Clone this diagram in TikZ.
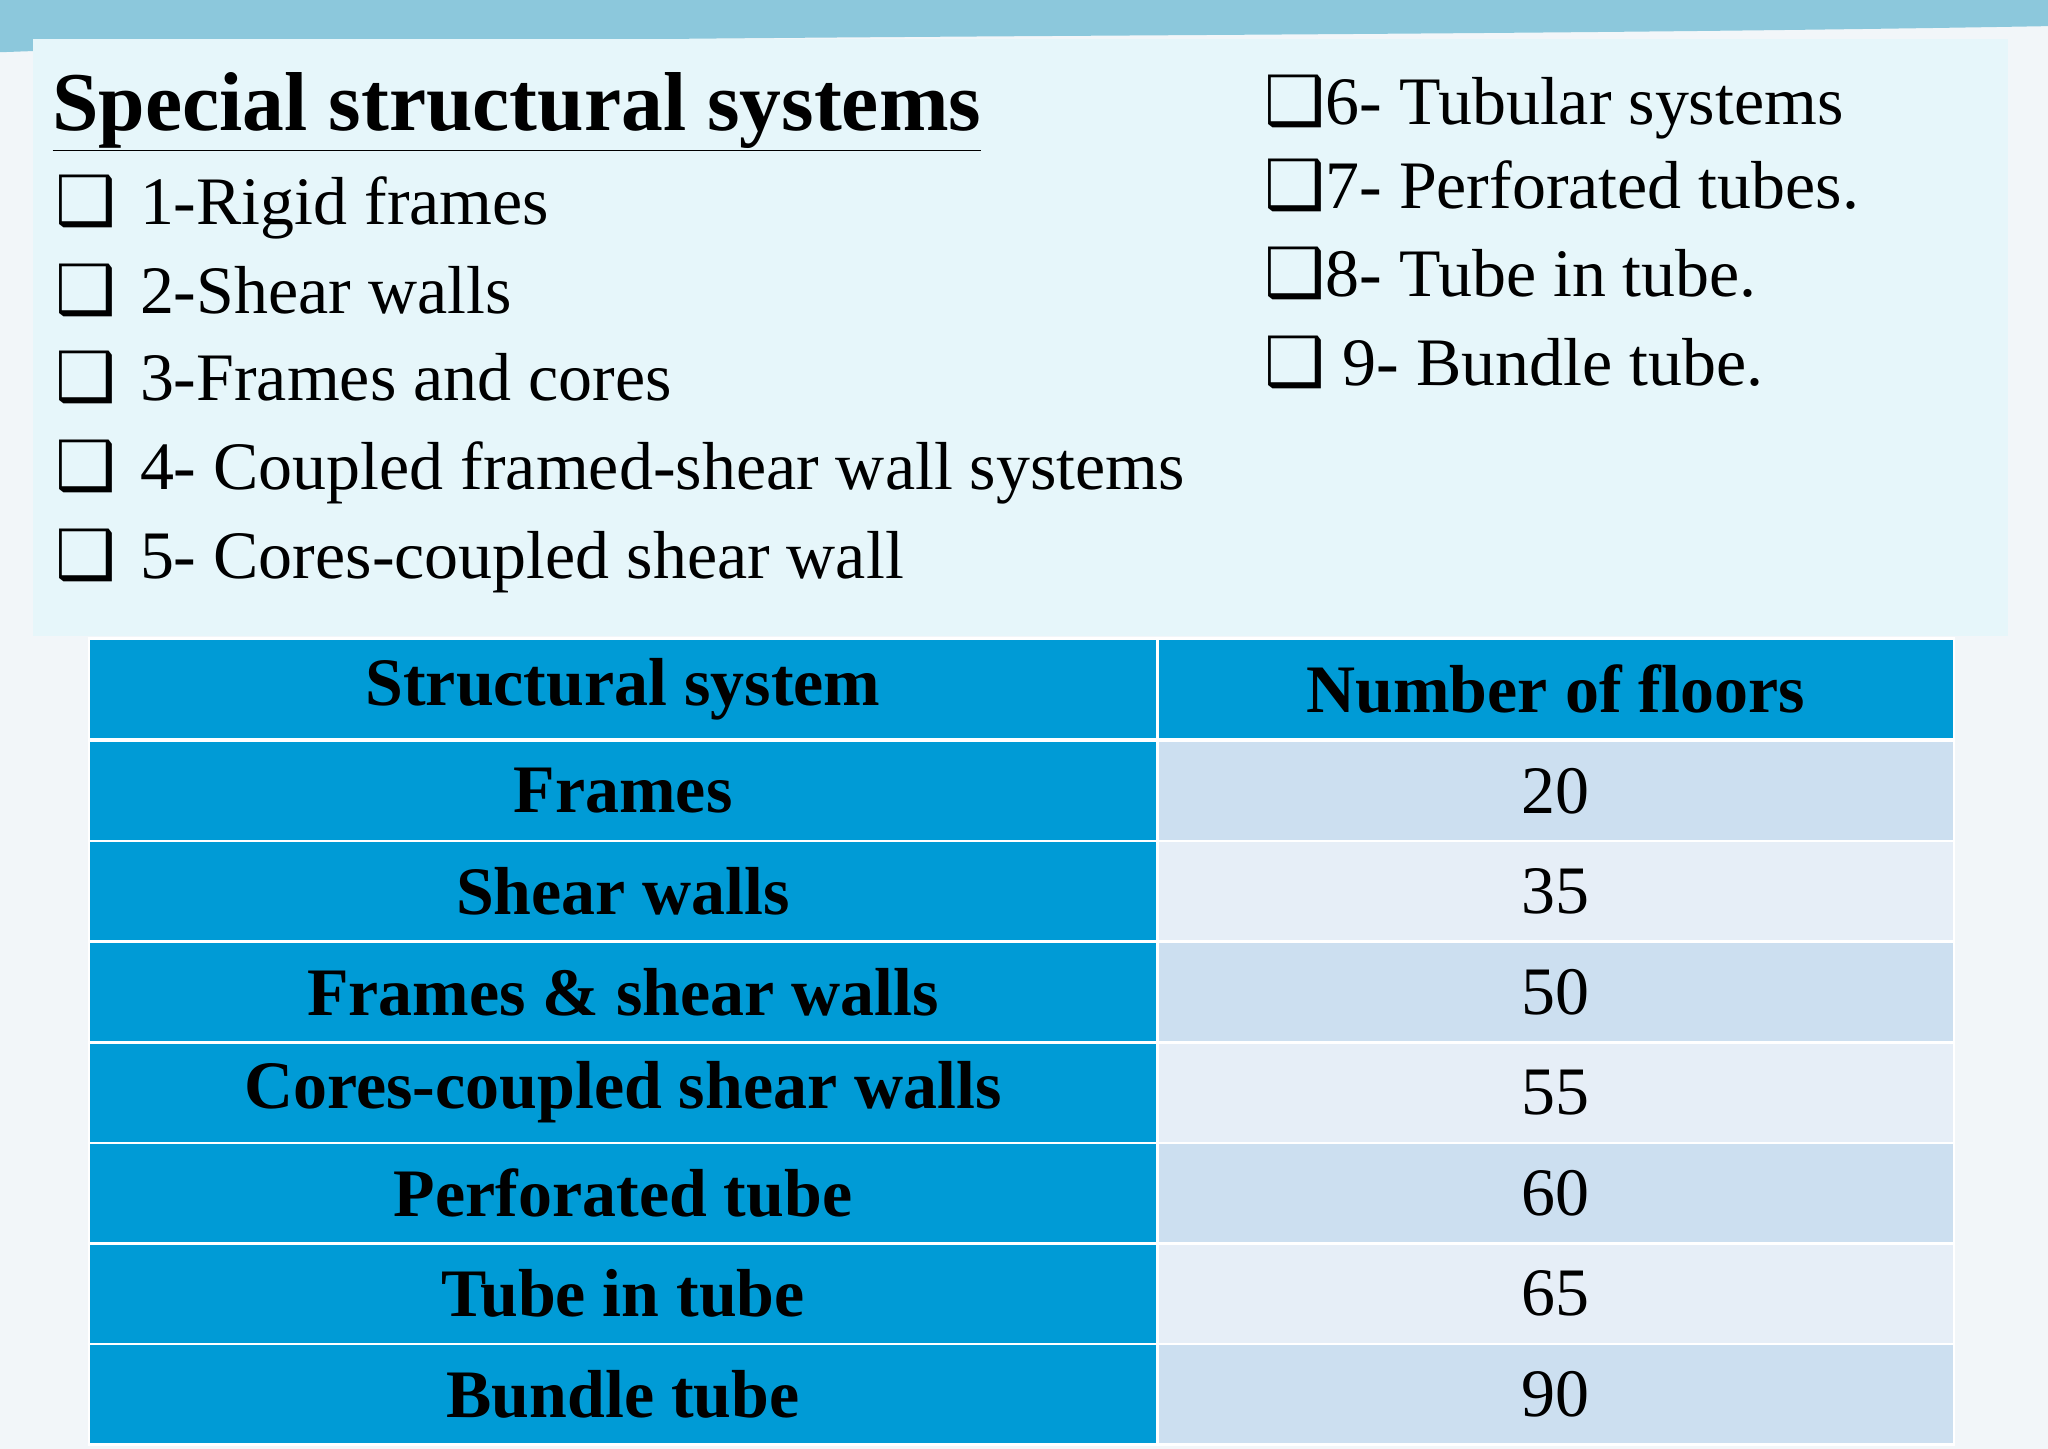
\documentclass[tikz,border=0pt]{standalone}
\usepackage{fontspec}
\setmainfont{Liberation Serif}
\newfontfamily\symf{DejaVu Sans}
\usetikzlibrary{positioning}
\definecolor{panel}{HTML}{E6F6FA}
\definecolor{bluecol}{HTML}{009BD6}
\definecolor{rowA}{HTML}{CCDFF0}
\definecolor{rowB}{HTML}{E6EEF7}
\definecolor{bg}{HTML}{F2F6F9}
\definecolor{sky}{HTML}{8CC8DC}
\tikzset{
 item/.style={anchor=base west,inner sep=0pt,font=\fontsize{52}{60}\selectfont},
 ritem/.style={anchor=base west,inner sep=0pt,font=\fontsize{52}{60}\selectfont},
 lcell/.style={fill=bluecol,draw=white,line width=2pt,minimum width=818pt,minimum height=77pt,anchor=north west,inner sep=0pt,font=\fontsize{52}{60}\selectfont\bfseries},
 rcell/.style={draw=white,line width=2pt,minimum width=610pt,minimum height=77pt,anchor=north west,inner sep=0pt,font=\fontsize{52}{60}\selectfont},
}
\newcommand{\cbx}{{\symf\char"2751}}
\begin{document}
\begin{tikzpicture}[x=1pt,y=-1pt]
\useasboundingbox (0,0) rectangle (1568,1109);
\fill[bg] (0,0) rectangle (1568,1109);
\fill[sky] (0,0) -- (1568,0) -- (1568,20) .. controls (1000,30) and (400,25) .. (0,40) -- cycle;
\fill[panel] (25,30) rectangle (1537,487);
\node[item,font=\fontsize{64}{70}\selectfont\bfseries] (title) at (40,100) {\underline{Special structural systems}};
\foreach \y/\t [count=\i] in {172/1-Rigid frames,240/2-Shear walls,307/3-Frames and cores,375/4- Coupled framed-shear wall systems,443/5- Cores-coupled shear wall}{
 \node[item] (c\i) at (42,\y) {\cbx};
 \node[item] (l\i) at (107,\y) {\t};
}
\foreach \y/\t [count=\i from 6] in {95/6- Tubular systems,160/7- Perforated tubes.,227/8- Tube in tube.}{
 \node[ritem] (r\i) at (968,\y) {\cbx\t};
}
\node[ritem] (r9) at (968,295) {\cbx\ 9- Bundle tube.};
\node[lcell] (h1) at (67,488) {Structural system};
\node[rcell,fill=bluecol,font=\fontsize{52}{60}\selectfont\bfseries] (h2) at (885,488) {Number of floors};
\foreach \a/\b/\c [count=\i] in {Frames/20/rowA,Shear walls/35/rowB,Frames \& shear walls/50/rowA,Cores-coupled shear walls/55/rowB,Perforated tube/60/rowA,Tube in tube/65/rowB,Bundle tube/90/rowA}{
 \pgfmathsetmacro{\yy}{566+(\i-1)*77}
 \node[lcell] (a\i) at (67,\yy) {\a};
 \node[rcell,fill=\c] (b\i) at (885,\yy) {\b};
}
\end{tikzpicture}
\end{document}
